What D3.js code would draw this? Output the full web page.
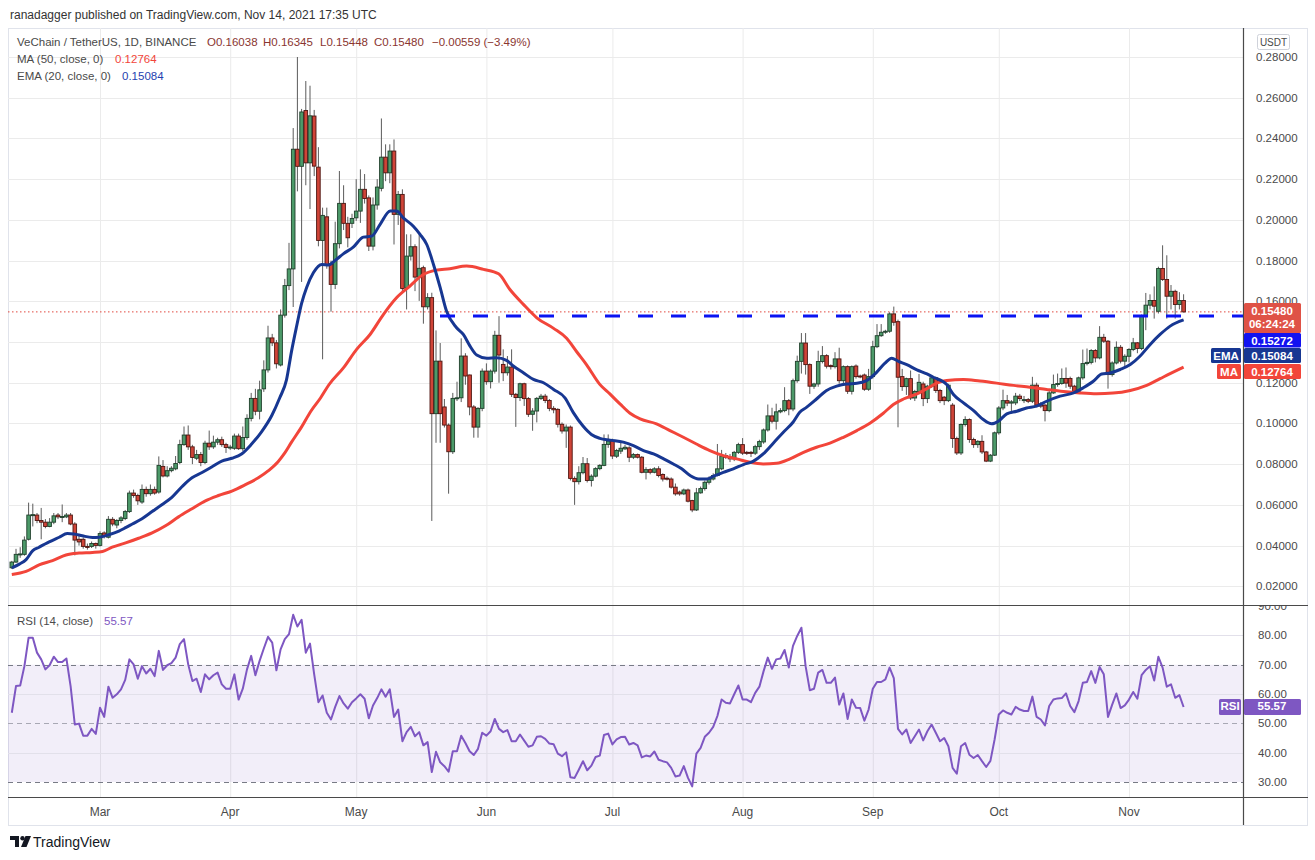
<!DOCTYPE html>
<html>
<head>
<meta charset="utf-8">
<script src="https://d3js.org/d3.v7.min.js"></script>
<style>
  body { margin: 0; background: #fff; }
  svg { display: block; font-family: "Liberation Sans", Arial, sans-serif; }
</style>
</head>
<body>
<div id="chart"></div>
<script>
// VeChain / TetherUS daily candles, Feb 8 2021 -> Nov 14 2021 (one value per day)
const firstDay = "2021-02-08";

const opens = [
  0.0291,0.0319,0.0357,0.0357,0.0431,0.0550,0.0550,0.0523,0.0515,0.0494,
  0.0515,0.0550,0.0541,0.0541,0.0550,0.0506,0.0431,0.0431,0.0396,0.0396,
  0.0410,0.0401,0.0462,0.0441,0.0529,0.0501,0.0523,0.0533,0.0567,0.0658,
  0.0646,0.0614,0.0676,0.0655,0.0676,0.0663,0.0789,0.0742,0.0768,0.0777,
  0.0808,0.0896,0.0943,0.0885,0.0829,0.0847,0.0808,0.0903,0.0885,0.0908,
  0.0920,0.0896,0.0882,0.0878,0.0938,0.0876,0.0931,0.1025,0.1123,0.1060,
  0.1170,0.1263,0.1420,0.1396,0.1287,0.1532,0.1677,0.1759,0.2347,0.2263,
  0.2537,0.2280,0.2510,0.2259,0.1899,0.2015,0.1781,0.1683,0.1883,0.2081,
  0.1983,0.1983,0.2010,0.2043,0.2150,0.2108,0.1871,0.2073,0.2155,0.2308,
  0.2231,0.2338,0.2027,0.2125,0.1666,0.1822,0.1868,0.1719,0.1765,0.1573,
  0.1618,0.1048,0.1306,0.1081,0.0992,0.0861,0.1123,0.1126,0.1331,0.1238,
  0.1081,0.0982,0.1074,0.1257,0.1205,0.1257,0.1433,0.1290,0.1249,0.1277,
  0.1143,0.1127,0.1195,0.1122,0.1045,0.1061,0.1123,0.1134,0.1113,0.1074,
  0.1069,0.0996,0.0963,0.0982,0.0730,0.0714,0.0758,0.0802,0.0720,0.0741,
  0.0778,0.0794,0.0897,0.0914,0.0839,0.0864,0.0875,0.0880,0.0834,0.0847,
  0.0834,0.0760,0.0773,0.0760,0.0777,0.0749,0.0731,0.0727,0.0687,0.0663,
  0.0654,0.0673,0.0621,0.0575,0.0659,0.0680,0.0711,0.0727,0.0744,0.0777,
  0.0842,0.0834,0.0826,0.0858,0.0896,0.0858,0.0858,0.0854,0.0886,0.0909,
  0.0968,0.1037,0.1011,0.1057,0.1063,0.1112,0.1071,0.1210,0.1305,0.1395,
  0.1289,0.1183,0.1194,0.1304,0.1333,0.1284,0.1279,0.1317,0.1210,0.1279,
  0.1158,0.1282,0.1233,0.1238,0.1168,0.1230,0.1377,0.1431,0.1448,0.1453,
  0.1538,0.1500,0.1230,0.1181,0.1220,0.1125,0.1157,0.1194,0.1122,0.1183,
  0.1224,0.1162,0.1129,0.1112,0.1090,0.0926,0.0855,0.0995,0.1019,0.0921,
  0.0896,0.0912,0.0860,0.0815,0.0844,0.0954,0.1076,0.1112,0.1100,0.1101,
  0.1134,0.1112,0.1117,0.1109,0.1188,0.1096,0.1090,0.1063,0.1150,0.1191,
  0.1196,0.1221,0.1221,0.1183,0.1158,0.1224,0.1294,0.1300,0.1358,0.1322,
  0.1423,0.1404,0.1240,0.1297,0.1374,0.1306,0.1330,0.1363,0.1396,0.1368,
  0.1527,0.1581,0.1604,0.1551,0.1761,0.1707,0.1625,0.1649,0.1584,0.16038
];

const highs = [
  0.0325,0.0384,0.0392,0.0445,0.0611,0.0606,0.0560,0.0585,0.0530,0.0535,
  0.0560,0.0560,0.0602,0.0560,0.0560,0.0515,0.0450,0.0440,0.0410,0.0420,
  0.0415,0.0470,0.0470,0.0545,0.0540,0.0530,0.0545,0.0575,0.0670,0.0675,
  0.0655,0.0700,0.0690,0.0700,0.0690,0.0838,0.0820,0.0790,0.0790,0.0840,
  0.0920,0.0985,0.0990,0.0895,0.0870,0.0860,0.0915,0.0965,0.0940,0.0930,
  0.0935,0.0905,0.0895,0.0950,0.0950,0.0985,0.1045,0.1150,0.1170,0.1210,
  0.1310,0.1480,0.1440,0.1410,0.1560,0.1710,0.1887,0.2451,0.2800,0.2545,
  0.2682,0.2659,0.2540,0.2357,0.2060,0.2060,0.1800,0.1991,0.2240,0.2170,
  0.2015,0.2030,0.2200,0.2248,0.2225,0.2120,0.2110,0.2200,0.2498,0.2371,
  0.2371,0.2395,0.2142,0.2150,0.1929,0.1929,0.1880,0.1929,0.1775,0.1640,
  0.1642,0.1457,0.1395,0.1120,0.1000,0.1150,0.1205,0.1418,0.1345,0.1240,
  0.1090,0.1080,0.1270,0.1295,0.1265,0.1455,0.1527,0.1364,0.1331,0.1364,
  0.1150,0.1200,0.1200,0.1130,0.1075,0.1130,0.1145,0.1145,0.1120,0.1085,
  0.1075,0.1005,0.0995,0.0990,0.0740,0.0790,0.0835,0.0830,0.0750,0.0785,
  0.0800,0.0946,0.0946,0.0925,0.0875,0.0905,0.0895,0.0888,0.0855,0.0852,
  0.0840,0.0785,0.0780,0.0785,0.0790,0.0755,0.0740,0.0735,0.0705,0.0670,
  0.0680,0.0680,0.0625,0.0683,0.0690,0.0720,0.0740,0.0755,0.0899,0.0870,
  0.0855,0.0850,0.0865,0.0905,0.0928,0.0865,0.0865,0.0895,0.0920,0.0975,
  0.1093,0.1077,0.1097,0.1075,0.1178,0.1120,0.1220,0.1333,0.1444,0.1444,
  0.1295,0.1200,0.1357,0.1380,0.1340,0.1290,0.1350,0.1372,0.1285,0.1285,
  0.1285,0.1290,0.1240,0.1245,0.1268,0.1406,0.1488,0.1488,0.1460,0.1546,
  0.1574,0.1510,0.1268,0.1225,0.1260,0.1165,0.1243,0.1205,0.1190,0.1235,
  0.1230,0.1170,0.1135,0.1195,0.1100,0.0935,0.1000,0.1035,0.1025,0.0930,
  0.0918,0.0942,0.0865,0.0850,0.0960,0.1085,0.1166,0.1140,0.1115,0.1150,
  0.1145,0.1135,0.1125,0.1229,0.1200,0.1105,0.1095,0.1160,0.1240,0.1245,
  0.1270,0.1275,0.1230,0.1190,0.1230,0.1363,0.1368,0.1365,0.1365,0.1478,
  0.1440,0.1410,0.1305,0.1403,0.1385,0.1340,0.1370,0.1420,0.1400,0.1535,
  0.1641,0.1634,0.1673,0.1770,0.1875,0.1826,0.1680,0.1657,0.1645,0.16345
];

const lows = [
  0.0285,0.0315,0.0340,0.0350,0.0425,0.0494,0.0510,0.0431,0.0485,0.0490,
  0.0505,0.0530,0.0515,0.0535,0.0500,0.0352,0.0400,0.0385,0.0380,0.0388,
  0.0385,0.0395,0.0435,0.0435,0.0495,0.0485,0.0510,0.0525,0.0560,0.0635,
  0.0600,0.0605,0.0640,0.0645,0.0650,0.0655,0.0735,0.0735,0.0760,0.0770,
  0.0800,0.0890,0.0870,0.0800,0.0820,0.0790,0.0800,0.0870,0.0875,0.0895,
  0.0885,0.0855,0.0870,0.0870,0.0870,0.0865,0.0920,0.1010,0.1040,0.1020,
  0.1155,0.1250,0.1380,0.1270,0.1280,0.1520,0.1655,0.1572,0.2140,0.1695,
  0.2170,0.2053,0.2215,0.1870,0.1315,0.1760,0.1549,0.1660,0.1860,0.1950,
  0.1865,0.1960,0.1995,0.1985,0.2080,0.1847,0.1850,0.2050,0.2140,0.2190,
  0.2180,0.1879,0.1975,0.1640,0.1560,0.1800,0.1650,0.1602,0.1490,0.1560,
  0.0521,0.0905,0.0905,0.0980,0.0655,0.0850,0.1110,0.1105,0.1190,0.1040,
  0.0930,0.0930,0.1060,0.1190,0.1172,0.1245,0.1200,0.1208,0.1235,0.1130,
  0.0983,0.1110,0.1086,0.1032,0.0964,0.1005,0.1115,0.1100,0.1060,0.1050,
  0.0980,0.0950,0.0880,0.0720,0.0600,0.0700,0.0750,0.0710,0.0690,0.0735,
  0.0770,0.0790,0.0880,0.0825,0.0830,0.0850,0.0870,0.0810,0.0825,0.0828,
  0.0755,0.0725,0.0750,0.0755,0.0735,0.0715,0.0720,0.0680,0.0645,0.0645,
  0.0648,0.0612,0.0564,0.0570,0.0655,0.0670,0.0700,0.0720,0.0740,0.0770,
  0.0825,0.0810,0.0815,0.0850,0.0845,0.0845,0.0835,0.0845,0.0870,0.0900,
  0.0960,0.1000,0.0970,0.1050,0.1055,0.1040,0.1060,0.1200,0.1245,0.1240,
  0.1145,0.1170,0.1180,0.1295,0.1270,0.1265,0.1270,0.1195,0.1195,0.1145,
  0.1142,0.1220,0.1222,0.1160,0.1160,0.1220,0.1370,0.1425,0.1440,0.1445,
  0.1480,0.0981,0.1160,0.1140,0.1115,0.1110,0.1150,0.1085,0.1100,0.1175,
  0.1150,0.1100,0.1090,0.1105,0.0880,0.0845,0.0845,0.0985,0.0905,0.0880,
  0.0880,0.0850,0.0810,0.0810,0.0840,0.0945,0.1065,0.1085,0.1050,0.1090,
  0.1110,0.1100,0.1100,0.1100,0.1080,0.1075,0.1010,0.1055,0.1145,0.1180,
  0.1190,0.1175,0.1170,0.1150,0.1150,0.1215,0.1285,0.1290,0.1300,0.1315,
  0.1395,0.1171,0.1230,0.1290,0.1295,0.1280,0.1300,0.1355,0.1345,0.1360,
  0.1458,0.1560,0.1515,0.1540,0.1700,0.1515,0.1560,0.1515,0.1560,0.15448
];

const closes = [
  0.0319,0.0357,0.0359,0.0427,0.0550,0.0552,0.0523,0.0515,0.0494,0.0515,
  0.0546,0.0541,0.0543,0.0550,0.0506,0.0427,0.0418,0.0396,0.0394,0.0410,
  0.0401,0.0459,0.0445,0.0529,0.0506,0.0523,0.0536,0.0567,0.0658,0.0646,
  0.0620,0.0676,0.0655,0.0676,0.0658,0.0794,0.0742,0.0768,0.0780,0.0803,
  0.0896,0.0943,0.0885,0.0833,0.0847,0.0808,0.0903,0.0885,0.0908,0.0920,
  0.0896,0.0882,0.0884,0.0938,0.0876,0.0931,0.1025,0.1123,0.1060,0.1165,
  0.1263,0.1420,0.1396,0.1293,0.1532,0.1677,0.1759,0.2347,0.2263,0.2530,
  0.2280,0.2511,0.2264,0.1899,0.2022,0.1781,0.1683,0.1883,0.2081,0.1983,
  0.1912,0.2007,0.2043,0.2150,0.2105,0.1871,0.2073,0.2161,0.2308,0.2231,
  0.2338,0.2027,0.2125,0.1663,0.1822,0.1868,0.1719,0.1762,0.1573,0.1618,
  0.1048,0.1306,0.1048,0.0992,0.0861,0.1123,0.1126,0.1331,0.1233,0.1081,
  0.0982,0.1074,0.1257,0.1205,0.1257,0.1433,0.1336,0.1249,0.1277,0.1143,
  0.1127,0.1195,0.1122,0.1045,0.1061,0.1123,0.1134,0.1113,0.1074,0.1067,
  0.0996,0.0963,0.0982,0.0730,0.0714,0.0758,0.0802,0.0720,0.0741,0.0778,
  0.0794,0.0897,0.0914,0.0840,0.0867,0.0878,0.0883,0.0834,0.0847,0.0834,
  0.0760,0.0773,0.0760,0.0777,0.0744,0.0727,0.0727,0.0687,0.0654,0.0654,
  0.0673,0.0618,0.0575,0.0659,0.0680,0.0711,0.0727,0.0744,0.0777,0.0839,
  0.0834,0.0826,0.0858,0.0896,0.0854,0.0854,0.0854,0.0886,0.0911,0.0968,
  0.1037,0.1011,0.1057,0.1063,0.1112,0.1071,0.1210,0.1305,0.1395,0.1289,
  0.1183,0.1194,0.1304,0.1333,0.1281,0.1279,0.1317,0.1210,0.1279,0.1158,
  0.1279,0.1230,0.1230,0.1168,0.1230,0.1377,0.1431,0.1448,0.1453,0.1538,
  0.1497,0.1227,0.1181,0.1220,0.1125,0.1157,0.1202,0.1122,0.1183,0.1224,
  0.1162,0.1112,0.1112,0.1188,0.0926,0.0855,0.0995,0.1019,0.0921,0.0896,
  0.0912,0.0860,0.0815,0.0844,0.0954,0.1076,0.1112,0.1100,0.1106,0.1134,
  0.1122,0.1117,0.1109,0.1188,0.1090,0.1085,0.1063,0.1150,0.1191,0.1196,
  0.1221,0.1198,0.1183,0.1158,0.1224,0.1294,0.1300,0.1358,0.1322,0.1423,
  0.1404,0.1240,0.1297,0.1374,0.1306,0.1330,0.1363,0.1396,0.1368,0.1527,
  0.1581,0.1604,0.1576,0.1761,0.1707,0.1625,0.1649,0.1584,0.1604,0.15480
];

// EMA (20) and MA (50) as [day index, value]
const ema20 = [
  [0,0.0291],[1.8,0.0309],[3.4,0.0331],[5,0.0375],[6.5,0.0392],[8.9,0.0418],[11.3,0.0441],
  [13.2,0.0459],[14.8,0.0457],[16.8,0.0448],[19.2,0.0440],[20.8,0.0441],[23.1,0.0453],
  [25.5,0.0471],[27.1,0.0488],[28.7,0.0506],[31,0.0532],[33.4,0.0567],[35.8,0.0602],
  [38.1,0.0637],[40.5,0.0689],[42.9,0.0733],[45.3,0.0759],[47.6,0.0786],[50,0.0815],
  [52.4,0.0829],[54.7,0.0850],[57.1,0.0899],[59.5,0.0960],[61.9,0.1039],[63.8,0.1126],
  [65.4,0.1214],[66.6,0.1354],[67.8,0.1476],[69,0.1590],[70.2,0.1668],[71.8,0.1740],
  [73.8,0.1781],[75.4,0.1778],[77,0.1801],[79,0.1834],[81.3,0.1866],[83.7,0.1915],
  [85.7,0.1920],[87.7,0.1978],[90.1,0.2043],[91.6,0.2043],[93.2,0.2010],[95.6,0.1969],
  [97.2,0.1929],[98.8,0.1879],[100.4,0.1781],[102,0.1667],[103.5,0.1552],[105.9,0.1470],
  [107.5,0.1437],[109.1,0.1380],[110.7,0.1336],[113.1,0.1320],[115.4,0.1323],[117.8,0.1310],
  [119.4,0.1282],[121.8,0.1249],[124.2,0.1216],[126.6,0.1200],[129,0.1167],[131.7,0.1126],
  [133.7,0.1053],[136,0.0987],[138,0.0946],[140,0.0927],[142.4,0.0918],[145.6,0.0908],
  [148,0.0891],[150.4,0.0867],[152.8,0.0850],[155.2,0.0826],[157.5,0.0801],[159.5,0.0777],
  [161.5,0.0744],[163.5,0.0727],[165.4,0.0727],[167.4,0.0744],[169.4,0.0760],[171.8,0.0777],
  [174.2,0.0798],[176.5,0.0814],[178.9,0.0850],[181.3,0.0903],[183.7,0.0957],[186,0.1006],
  [187.6,0.1055],[189.2,0.1079],[191.6,0.1120],[193.9,0.1161],[196.4,0.1183],[198.7,0.1194],
  [201.2,0.1197],[203.5,0.1210],[205.9,0.1251],[207.9,0.1296],[209.5,0.1320],[211.1,0.1305],
  [213.1,0.1289],[215.5,0.1263],[217.9,0.1243],[219.4,0.1227],[222.6,0.1191],[224.2,0.1142],
  [226.6,0.1101],[229,0.1063],[231.3,0.1019],[233.3,0.0998],[234.9,0.1011],[236.9,0.1047],
  [239.3,0.1060],[241.6,0.1076],[244,0.1085],[246.4,0.1109],[249.6,0.1134],[252.8,0.1150],
  [255.1,0.1175],[257.5,0.1207],[259.5,0.1243],[261.5,0.1248],[263.9,0.1265],[266.3,0.1289],
  [268.6,0.1330],[271,0.1387],[273.4,0.1437],[275.8,0.1478],[279,0.15084]
];

const ma50 = [
  [0,0.0258],[3.4,0.0273],[6.5,0.0305],[9.7,0.0326],[12.9,0.0354],[16,0.0363],[19.2,0.0366],
  [21.6,0.0371],[23.9,0.0392],[27.1,0.0413],[30.2,0.0436],[33.4,0.0462],[36.6,0.0497],
  [39.7,0.0541],[42.9,0.0581],[46.1,0.0620],[49.2,0.0646],[52.4,0.0668],[55.5,0.0698],
  [58.7,0.0733],[61.1,0.0768],[63.4,0.0812],[65,0.0855],[66.6,0.0908],[69,0.0983],
  [71.2,0.1060],[73.5,0.1125],[75.5,0.1190],[79,0.1274],[82.1,0.1364],[85.3,0.1437],
  [88.5,0.1536],[91.6,0.1617],[94.8,0.1675],[97.8,0.1729],[101,0.1753],[104.3,0.1760],
  [108.3,0.1773],[112.3,0.1757],[115.9,0.1735],[118.6,0.1658],[121.8,0.1585],[125,0.1519],
  [129,0.1467],[132.1,0.1418],[134.5,0.1352],[136.9,0.1287],[140,0.1192],[142.4,0.1145],
  [144.8,0.1096],[147.2,0.1050],[149.6,0.1022],[153.5,0.0998],[156.7,0.0965],[159.9,0.0932],
  [163,0.0899],[166.2,0.0867],[169.4,0.0842],[172.6,0.0826],[175.8,0.0809],[178.9,0.0801],
  [182.1,0.0804],[185.3,0.0826],[188.5,0.0858],[191.6,0.0883],[194.8,0.0903],[198,0.0932],
  [201.2,0.0965],[204.3,0.1001],[207.5,0.1050],[209.9,0.1093],[212.3,0.1120],[215.5,0.1145],
  [218.2,0.1175],[220.5,0.1200],[222.6,0.1211],[226.6,0.1216],[230.5,0.1208],[234.5,0.1198],
  [238.5,0.1187],[242.4,0.1178],[246.4,0.1167],[250.4,0.1157],[254.3,0.1150],[258.3,0.1146],
  [262.2,0.1149],[266.3,0.1162],[270.2,0.1187],[273.4,0.1220],[275.8,0.1245],[279,0.12764]
];

// RSI (14), one value per day
const rsi = [
  53.6,62.7,62.9,69.5,79.2,79.2,74.1,71.8,68.4,69.8,72.7,70.9,70.9,72.1,62.7,49.6,49.9,45.8,45.8,48.1,
  46.4,55.3,52.2,62.5,58.7,59.9,61.6,64.8,71.8,70.1,65.2,69.5,67.0,68.6,66.1,74.7,68.2,69.8,70.5,72.4,
  77.0,78.7,70.1,64.4,65.2,60.7,66.7,65.0,66.4,67.3,63.3,61.8,61.8,66.7,58.1,61.8,68.4,73.0,66.4,71.3,
  75.5,79.5,77.5,68.1,75.2,78.7,80.4,87.0,83.0,85.3,74.1,77.2,66.7,57.2,59.5,53.6,51.3,55.6,59.3,56.8,
  55.0,57.2,58.5,59.9,58.4,51.7,56.1,58.6,61.6,59.1,61.6,52.2,54.7,43.9,47.0,48.8,45.6,47.0,42.5,43.6,
  33.4,40.3,36.7,35.4,33.5,40.5,40.5,45.8,43.3,40.5,39.2,41.3,46.8,45.8,47.3,51.5,48.1,47.0,47.7,43.9,
  43.9,46.2,44.1,42.0,42.5,45.4,45.6,44.7,43.1,42.9,39.7,38.8,40.1,31.6,31.4,34.2,37.1,34.0,35.6,38.5,
  39.0,46.0,46.5,42.8,44.5,45.3,45.4,42.8,43.3,42.5,38.4,39.0,38.7,40.4,37.6,
  37.1,36.7,34.8,31.9,32.2,35.4,31.4,28.5,39.7,41.6,45.4,46.8,48.8,52.5,58.1,57.0,56.8,59.9,62.9,58.1,
  58.1,57.2,60.4,62.5,67.8,72.4,68.6,71.8,72.1,75.0,69.0,76.4,79.8,82.6,69.5,61.3,61.8,67.3,68.2,63.8,
  63.8,65.6,56.4,60.2,51.5,58.1,55.3,55.2,50.9,54.7,61.8,64.1,64.1,65.0,69.0,65.4,48.1,46.2,47.9,43.3,
  45.6,47.9,44.2,47.3,49.6,46.8,43.9,45.0,42.2,34.8,32.8,42.2,43.3,39.3,38.2,39.2,37.1,35.1,37.2,44.5,
  53.0,54.4,53.6,53.0,55.6,54.7,54.2,54.2,59.1,52.2,51.3,49.3,55.9,58.1,58.5,58.6,60.2,55.9,53.8,57.6,
  63.8,64.1,67.8,63.8,69.2,66.7,52.2,56.4,60.2,55.2,56.1,58.1,60.7,58.4,66.4,68.2,69.5,64.6,72.7,69.0,
  62.5,63.3,58.7,59.6,55.57
];

// Axis ticks (0.14000 sits under the price tags in the picture, so it is not listed)
const priceTicks = [0.02,0.04,0.06,0.08,0.10,0.12,0.16,0.18,0.20,0.22,0.24,0.26,0.28];
const rsiTicks = [30,40,50,60,70,80,90];
const gridTicks = [0.02,0.04,0.06,0.08,0.10,0.12,0.14,0.16,0.18,0.20,0.22,0.24,0.26,0.28];
const monthStarts = ["2021-03-01","2021-04-01","2021-05-01","2021-06-01","2021-07-01",
                     "2021-08-01","2021-09-01","2021-10-01","2021-11-01"];
const monthLabels = ["Mar","Apr","May","Jun","Jul","Aug","Sep","Oct","Nov"];
const levelLine = 0.15272;
const lastPrice = 0.15480;
const lastEma = 0.15084;
const lastMa = 0.12764;
const lastRsi = 55.57;

// Layout
const width = 1315;
const height = 860;
const paneLeft = 8, axisX = 1243, frameRight = 1308;
const mainTop = 28, mainBottom = 605, rsiBottom = 797, frameBottom = 825;
const gridColor = "#ebebeb";
const textColor = "#4a4a4a";

const svg = d3.select("#chart").append("svg")
  .attr("width", width).attr("height", height);

const defs = svg.append("defs");
defs.append("clipPath").attr("id", "clip-main")
  .append("rect").attr("x", paneLeft).attr("y", mainTop)
  .attr("width", axisX - paneLeft).attr("height", mainBottom - mainTop);
defs.append("clipPath").attr("id", "clip-rsi")
  .append("rect").attr("x", paneLeft).attr("y", mainBottom)
  .attr("width", axisX - paneLeft).attr("height", rsiBottom - mainBottom);
defs.append("clipPath").attr("id", "clip-rsi-axis")
  .append("rect").attr("x", axisX).attr("y", mainBottom + 1)
  .attr("width", frameRight - axisX).attr("height", rsiBottom - mainBottom - 1);
// price labels are hidden where the tag stack sits
const priceClip = defs.append("clipPath").attr("id", "clip-price-axis");
priceClip.append("rect").attr("x", axisX).attr("y", mainTop).attr("width", 70).attr("height", 303 - mainTop);
priceClip.append("rect").attr("x", axisX).attr("y", 379).attr("width", 70).attr("height", mainBottom - 379);

// Scales
const start = d3.utcParse("%Y-%m-%d")(firstDay);
const x = d3.scaleLinear().domain([0, closes.length - 1]).range([11.8, 1183.6]);
const y = d3.scaleLinear().domain([0.02, 0.28]).range([586.3, 57]);
const yR = d3.scaleLinear().domain([30, 90]).range([782, 606]);
const monthIdx = monthStarts.map(s => d3.utcDay.count(start, d3.utcParse("%Y-%m-%d")(s)));

// Header
svg.append("text").attr("x", 10).attr("y", 19)
  .attr("font-size", 12).attr("fill", "#333")
  .text("ranadagger published on TradingView.com, Nov 14, 2021 17:35 UTC");

// Frame
svg.append("rect").attr("x", paneLeft + 0.5).attr("y", mainTop + 0.5)
  .attr("width", frameRight - paneLeft - 1).attr("height", frameBottom - mainTop)
  .attr("fill", "none").attr("stroke", "#e0e3eb");

// Grid
const grid = svg.append("g");
grid.selectAll(".vg").data(monthIdx).join("line")
  .attr("x1", d => x(d) + 0.5).attr("x2", d => x(d) + 0.5)
  .attr("y1", mainTop).attr("y2", rsiBottom)
  .attr("stroke", gridColor);
grid.selectAll(".hg").data(gridTicks).join("line")
  .attr("x1", paneLeft).attr("x2", axisX)
  .attr("y1", d => Math.round(y(d)) + 0.5).attr("y2", d => Math.round(y(d)) + 0.5)
  .attr("stroke", gridColor);

// RSI band and grid
const rsiG = svg.append("g").attr("clip-path", "url(#clip-rsi)");
rsiG.append("rect").attr("x", paneLeft).attr("width", axisX - paneLeft)
  .attr("y", yR(70)).attr("height", yR(30) - yR(70))
  .attr("fill", "#7e57c2").attr("fill-opacity", 0.1);
rsiG.selectAll(".rg").data([40, 60, 80]).join("line")
  .attr("x1", paneLeft).attr("x2", axisX)
  .attr("y1", d => Math.round(yR(d)) + 0.5).attr("y2", d => Math.round(yR(d)) + 0.5)
  .attr("stroke", "#e2e0ea");
rsiG.selectAll(".rd").data([70, 50, 30]).join("line")
  .attr("x1", paneLeft).attr("x2", axisX)
  .attr("y1", d => Math.round(yR(d)) + 0.5).attr("y2", d => Math.round(yR(d)) + 0.5)
  .attr("stroke", d => d === 50 ? "#a8a8b4" : "#787b86")
  .attr("stroke-dasharray", "5,4");
rsiG.append("path")
  .attr("d", d3.line().x((d, i) => x(i)).y(d => yR(d))(rsi))
  .attr("fill", "none").attr("stroke", "#7e57c2").attr("stroke-width", 2)
  .attr("stroke-linejoin", "round");

// Main pane
const main = svg.append("g").attr("clip-path", "url(#clip-main)");

// red dotted last price line
main.append("line")
  .attr("x1", paneLeft).attr("x2", axisX)
  .attr("y1", y(lastPrice)).attr("y2", y(lastPrice))
  .attr("stroke", "#e0493f").attr("stroke-width", 1).attr("stroke-dasharray", "1.5,2.5");

// candles
const candles = main.append("g");
const idx = d3.range(closes.length);
candles.selectAll(".wick").data(idx).join("line")
  .attr("x1", i => x(i)).attr("x2", i => x(i))
  .attr("y1", i => y(highs[i])).attr("y2", i => y(lows[i]))
  .attr("stroke", "#5b5b5b").attr("stroke-width", 1);
candles.selectAll(".body").data(idx).join("rect")
  .attr("x", i => x(i) - 1.8).attr("width", 3.6)
  .attr("y", i => y(Math.max(opens[i], closes[i])))
  .attr("height", i => Math.max(1, Math.abs(y(opens[i]) - y(closes[i]))))
  .attr("fill", i => closes[i] >= opens[i] ? "#4c9a69" : "#cf4438")
  .attr("stroke", i => closes[i] >= opens[i] ? "#1f3f2b" : "#4d1510")
  .attr("stroke-width", 0.9);

// moving averages
const avgLine = d3.line().x(d => x(d[0])).y(d => y(d[1])).curve(d3.curveMonotoneX);
main.append("path").attr("d", avgLine(ma50))
  .attr("fill", "none").attr("stroke", "#f2453a").attr("stroke-width", 3);
main.append("path").attr("d", avgLine(ema20))
  .attr("fill", "none").attr("stroke", "#173792").attr("stroke-width", 3);

// blue dashed horizontal level
main.append("line")
  .attr("x1", 440).attr("x2", axisX)
  .attr("y1", y(levelLine)).attr("y2", y(levelLine))
  .attr("stroke", "#0a14f2").attr("stroke-width", 3).attr("stroke-dasharray", "15,18");

// Separators and axis line
svg.append("line").attr("x1", paneLeft).attr("x2", frameRight)
  .attr("y1", mainBottom + 0.5).attr("y2", mainBottom + 0.5).attr("stroke", "#4a4a4a").attr("stroke-width", 1.2);
svg.append("line").attr("x1", paneLeft).attr("x2", frameRight)
  .attr("y1", rsiBottom + 0.5).attr("y2", rsiBottom + 0.5).attr("stroke", "#4a4a4a").attr("stroke-width", 1.2);
svg.append("line").attr("x1", axisX + 0.5).attr("x2", axisX + 0.5)
  .attr("y1", mainTop).attr("y2", frameBottom).attr("stroke", "#4a4a4a").attr("stroke-width", 1.2);

// Price axis labels
svg.append("g").attr("clip-path", "url(#clip-price-axis)")
  .selectAll("text").data(priceTicks).join("text")
  .attr("x", 1256).attr("y", d => y(d) + 4)
  .attr("font-size", 11.5).attr("fill", textColor)
  .text(d => d3.format(".5f")(d));

// RSI axis labels
svg.append("g").attr("clip-path", "url(#clip-rsi-axis)")
  .selectAll("text").data(rsiTicks).join("text")
  .attr("x", 1258).attr("y", d => yR(d) + 4)
  .attr("font-size", 11.5).attr("fill", textColor)
  .text(d => d3.format(".2f")(d));

// USDT box
svg.append("rect").attr("x", 1257.5).attr("y", 34.5).attr("width", 32).attr("height", 15)
  .attr("rx", 2).attr("fill", "#fff").attr("stroke", "#cfd2da");
svg.append("text").attr("x", 1273.5).attr("y", 45.5).attr("text-anchor", "middle")
  .attr("font-size", 10).attr("fill", textColor).text("USDT");

// Right-axis tags
function tag(yTop, h, fill, lines, label, labelX) {
  svg.append("rect").attr("x", axisX + 1).attr("y", yTop).attr("width", 57).attr("height", h)
    .attr("fill", fill).attr("rx", 1.5);
  lines.forEach((t, k) => {
    svg.append("text").attr("x", axisX + 29).attr("y", yTop + 11.5 + k * 13.5)
      .attr("text-anchor", "middle").attr("font-size", 11.5).attr("font-weight", "bold")
      .attr("fill", "#fff").text(t);
  });
  if (label) {
    svg.append("rect").attr("x", labelX).attr("y", yTop).attr("width", axisX - 2 - labelX).attr("height", h)
      .attr("fill", fill).attr("rx", 1.5);
    svg.append("text").attr("x", (labelX + axisX - 2) / 2).attr("y", yTop + 11.5)
      .attr("text-anchor", "middle").attr("font-size", 11.5).attr("font-weight", "bold")
      .attr("fill", "#fff").text(label);
  }
}
tag(303, 30, "#df5246", [d3.format(".5f")(lastPrice), "06:24:24"]);
tag(333, 14.5, "#1212f0", [d3.format(".5f")(levelLine)]);
tag(348, 15, "#173792", [d3.format(".5f")(lastEma)], "EMA", 1211);
tag(364, 15, "#f2453a", [d3.format(".5f")(lastMa)], "MA", 1217);
tag(yR(lastRsi) - 8, 16, "#7e57c2", [d3.format(".2f")(lastRsi)], "RSI", 1219);

// Month labels
svg.append("g").selectAll("text").data(monthIdx).join("text")
  .attr("x", d => x(d)).attr("y", 816).attr("text-anchor", "middle")
  .attr("font-size", 12).attr("fill", textColor)
  .text((d, k) => monthLabels[k]);

// Legends
const legend = svg.append("g").attr("font-size", 11.5);
legend.append("text").attr("x", 17).attr("y", 46).attr("fill", textColor)
  .text("VeChain / TetherUS, 1D, BINANCE");
const ohlcText = [
  ["O", d3.format(".5f")(opens[opens.length - 1]), 207],
  ["H", d3.format(".5f")(highs[highs.length - 1]), 263],
  ["L", d3.format(".5f")(lows[lows.length - 1]), 320],
  ["C", d3.format(".5f")(lastPrice), 374]
];
ohlcText.forEach(([k, v, px]) => {
  const t = legend.append("text").attr("x", px).attr("y", 46).attr("fill", "#8a3530");
  t.append("tspan").text(k);
  t.append("tspan").text(v);
});
legend.append("text").attr("x", 432).attr("y", 46).attr("fill", "#8a3530")
  .text("\u22120.00559 (\u22123.49%)");
legend.append("text").attr("x", 17).attr("y", 63).attr("fill", textColor).text("MA (50, close, 0)");
legend.append("text").attr("x", 115).attr("y", 63).attr("fill", "#f2453a").text(d3.format(".5f")(lastMa));
legend.append("text").attr("x", 17).attr("y", 80).attr("fill", textColor).text("EMA (20, close, 0)");
legend.append("text").attr("x", 122).attr("y", 80).attr("fill", "#1f3fb0").text(d3.format(".5f")(lastEma));
legend.append("text").attr("x", 17).attr("y", 625).attr("fill", textColor).text("RSI (14, close)");
legend.append("text").attr("x", 104).attr("y", 625).attr("fill", "#7e57c2").text(d3.format(".2f")(lastRsi));

// TradingView logo
const logo = svg.append("g").attr("transform", "translate(10,836)");
logo.append("path").attr("d", "M0,0 H9 V11 H5 V4 H0 Z").attr("fill", "#131722");
logo.append("circle").attr("cx", 12.5).attr("cy", 2.2).attr("r", 2.2).attr("fill", "#131722");
logo.append("path").attr("d", "M15.5,0 H21 L16.5,11 H11 Z").attr("fill", "#131722");
logo.append("text").attr("x", 23).attr("y", 11).attr("font-size", 14).attr("fill", "#131722")
  .text("TradingView");
</script>
</body>
</html>
